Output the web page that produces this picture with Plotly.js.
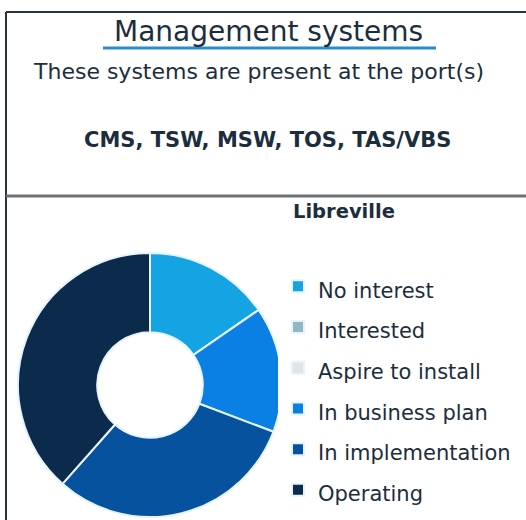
<!DOCTYPE html>
<html>
<head>
<meta charset="utf-8">
<script src="https://cdn.plot.ly/plotly-3.0.1.min.js"></script>
<style>
  html, body { margin: 0; padding: 0; background: #fff; }
  #chart { width: 526px; height: 520px; }
</style>
</head>
<body>
<div id="chart"></div>
<script>
// donut data (counts of systems by status)
var statuses = ["No interest", "Interested", "Aspire to install", "In business plan", "In implementation", "Operating"];
var counts = [2, 0, 0, 2, 4, 5];
var sliceColors = ["#14a3e3", "#8fb9c2", "#dde4ea", "#0a80e4", "#06529e", "#0b2a4c"];

var portName = "Libreville";
var systemsList = "CMS, TSW, MSW, TOS, TAS/VBS";

var W = 526, H = 520;
function px(x) { return x / W; }
function py(y) { return 1 - y / H; }

var txt = "#1c2d3d";
var fam = "DejaVu Sans, Liberation Sans, Arial, sans-serif";

// legend row spacing comes from the legend font size, the text itself is smaller
var legendLabels = statuses.map(function (s) {
  return '<span style="font-size:21px">' + s + '</span>';
});

var data = [{
  type: "pie",
  labels: legendLabels,
  values: counts,
  hole: 0.4,
  sort: false,
  direction: "clockwise",
  rotation: 0,
  textinfo: "none",
  marker: { colors: sliceColors, line: { color: "#e6f3fa", width: 2 } },
  domain: { x: [px(18), px(282)], y: [py(517), py(253)] }
}];

var layout = {
  width: W,
  height: H,
  margin: { l: 0, r: 0, t: 0, b: 0 },
  paper_bgcolor: "#fff",
  font: { family: fam, color: txt },
  showlegend: true,
  legend: {
    x: px(278), y: py(261), xanchor: "left", yanchor: "top",
    font: { size: 29, color: txt },
    traceorder: "normal",
    itemwidth: 30
  },
  shapes: [
    // header box
    { type: "line", xref: "paper", yref: "paper", x0: px(6), x1: 1, y0: py(12), y1: py(12), line: { color: "#2a3440", width: 2 } },
    { type: "line", xref: "paper", yref: "paper", x0: px(6), x1: px(6), y0: py(12), y1: 0, line: { color: "#2a3440", width: 2 } },
    { type: "line", xref: "paper", yref: "paper", x0: px(6), x1: 1, y0: py(196), y1: py(196), line: { color: "#6b7177", width: 3 } },
    // title underline
    { type: "line", xref: "paper", yref: "paper", x0: px(103), x1: px(436), y0: py(48), y1: py(48), line: { color: "#2a8ccc", width: 3 } }
  ],
  annotations: [
    { text: "Management systems", xref: "paper", yref: "paper", x: px(268), y: py(31), yanchor: "middle", showarrow: false, font: { size: 28, color: txt } },
    { text: "These systems are present at the port(s)", xref: "paper", yref: "paper", x: px(258), y: py(72), yanchor: "middle", showarrow: false, font: { size: 22, color: txt } },
    { text: "<b>" + systemsList + "</b>", xref: "paper", yref: "paper", x: px(267), y: py(140), yanchor: "middle", showarrow: false, font: { size: 21, color: txt } },
    { text: "<b>" + portName + "</b>", xref: "paper", yref: "paper", x: px(344), y: py(211), yanchor: "middle", showarrow: false, font: { size: 19.5, color: txt } }
  ]
};

Plotly.newPlot("chart", data, layout, { displayModeBar: false, staticPlot: true });
</script>
</body>
</html>
